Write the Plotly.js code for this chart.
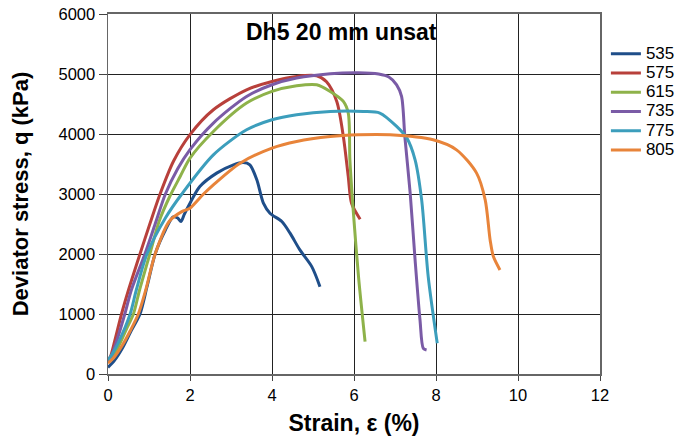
<!DOCTYPE html>
<html>
<head>
<meta charset="utf-8">
<script src="https://cdn.plot.ly/plotly-3.0.1.min.js"></script>
<style>html,body{margin:0;padding:0;background:#fff;}#chart{width:683px;height:441px;}</style>
</head>
<body>
<div id="chart"></div>
<script>
// Series names
const seriesNames = ["535", "575", "615", "735", "775", "805"];

// Strain (%) and deviator stress (kPa) per series
const strain535 = [0, 0.15, 0.35, 0.55, 0.78, 0.95, 1.15, 1.40, 1.59, 1.70, 1.78, 1.86, 2.0, 2.24, 2.65, 3.06, 3.30, 3.46, 3.63, 3.79, 3.95, 4.24, 4.44, 4.68, 4.97, 5.17];
const q535      = [110, 220, 430, 700, 1000, 1450, 2000, 2400, 2620, 2600, 2541, 2660, 2847, 3124, 3348, 3486, 3525, 3486, 3236, 2847, 2680, 2541, 2347, 2068, 1790, 1456];

const strain575 = [0, 0.08, 0.17, 0.33, 0.50, 0.78, 1.02, 1.27, 1.6, 2.0, 2.57, 3.38, 4.0, 4.6, 5.09, 5.33, 5.58, 5.74, 5.86, 5.94, 6.15];
const q575      = [200, 330, 567, 1000, 1400, 2000, 2500, 3000, 3550, 3990, 4404, 4737, 4876, 4960, 4970, 4870, 4540, 3958, 3291, 2847, 2580];

const strain615 = [0, 0.1, 0.25, 0.45, 0.62, 0.77, 1.02, 1.25, 1.5, 1.76, 2.0, 2.57, 3.38, 4.0, 4.6, 5.09, 5.42, 5.74, 5.86, 5.90, 5.98, 6.11, 6.27];
const q615      = [200, 280, 450, 750, 1000, 1400, 2000, 2550, 2950, 3291, 3598, 4042, 4515, 4710, 4804, 4821, 4710, 4543, 4349, 3570, 2736, 1623, 540];

const strain735 = [0, 0.1, 0.22, 0.41, 0.57, 0.90, 1.15, 1.40, 1.70, 2.0, 2.57, 3.38, 4.0, 4.6, 5.42, 6.1, 6.6, 6.85, 7.04, 7.16, 7.24, 7.37, 7.49, 7.61, 7.69, 7.77];
const q735      = [220, 330, 567, 1000, 1400, 2000, 2500, 3000, 3420, 3740, 4182, 4626, 4821, 4932, 5004, 5020, 5000, 4950, 4820, 4626, 3958, 3014, 1902, 900, 428, 400];

const strain775 = [0, 0.1, 0.25, 0.54, 0.69, 0.95, 1.40, 1.80, 2.57, 3.38, 4.0, 4.6, 5.42, 6.23, 6.63, 7.04, 7.29, 7.49, 7.65, 7.81, 8.03];
const q775      = [230, 330, 520, 1000, 1400, 2000, 2600, 3000, 3653, 4070, 4237, 4320, 4375, 4375, 4349, 4126, 3931, 3570, 2902, 1623, 512];

const strain805 = [0, 0.15, 0.35, 0.55, 0.74, 0.92, 1.15, 1.5, 1.8, 2.0, 2.33, 2.57, 3.22, 4.0, 4.6, 5.42, 6.1, 6.88, 7.93, 8.50, 8.99, 9.20, 9.32, 9.40, 9.56];
const q805      = [180, 280, 480, 730, 1000, 1400, 2000, 2550, 2707, 2764, 3000, 3153, 3514, 3765, 3876, 3958, 3987, 3987, 3903, 3736, 3348, 2902, 2235, 1957, 1735];

const xTicks = [0, 2, 4, 6, 8, 10, 12];
const yTicks = [0, 1000, 2000, 3000, 4000, 5000, 6000];

const colors = ["#1F4E89", "#B8403B", "#8EB24A", "#7A5BA6", "#3C9EBC", "#E8843A"];
const xs = [strain535, strain575, strain615, strain735, strain775, strain805];
const ys = [q535, q575, q615, q735, q775, q805];

const traces = seriesNames.map((n, i) => ({
  x: xs[i], y: ys[i], name: '<span style="font-size:17px">' + n + '</span>', type: "scatter", mode: "lines",
  line: {color: colors[i], width: 3, shape: "spline", smoothing: 0.8}
}));

const font = "Liberation Sans, Arial, sans-serif";
const layout = {
  width: 683, height: 441,
  margin: {l: 108, r: 83, t: 14, b: 67, autoexpand: false},
  paper_bgcolor: "#fff", plot_bgcolor: "#fff",
  showlegend: true,
  legend: {x: 1.012, xanchor: "left", y: 0.93, yanchor: "top", font: {family: font, size: 12.5, color: "#000"}, tracegroupgap: 0, itemwidth: 30, bgcolor: "rgba(0,0,0,0)"},
  xaxis: {
    range: [0, 12], tickvals: xTicks, ticktext: xTicks.map(String),
    showgrid: true, gridcolor: "#222", gridwidth: 1,
    showline: true, linecolor: "#666", linewidth: 2, mirror: true,
    ticks: "outside", ticklen: 5, tickcolor: "#444",
    zeroline: false,
    tickfont: {family: font, size: 16.5, color: "#000"},
    title: {text: "<b>Strain, ε (%)</b>", font: {family: font, size: 23, color: "#000"}, standoff: 12}
  },
  yaxis: {
    range: [0, 6000], tickvals: yTicks, ticktext: yTicks.map(String),
    showgrid: true, gridcolor: "#222", gridwidth: 1,
    showline: true, linecolor: "#666", linewidth: 1.5, mirror: true,
    ticks: "outside", ticklen: 8, tickcolor: "#444",
    zeroline: false,
    tickfont: {family: font, size: 16.5, color: "#000"},
    title: {text: "<b>Deviator stress, q (kPa)</b>", font: {family: font, size: 22, color: "#000"}, standoff: 24}
  },
  annotations: [{
    text: "<b>Dh5 20 mm unsat</b>", xref: "paper", yref: "paper",
    x: 0.474, y: 0.95, xanchor: "center", yanchor: "middle", showarrow: false,
    font: {family: font, size: 23, color: "#000"}
  }]
};

Plotly.newPlot("chart", traces, layout, {displayModeBar: false, staticPlot: true});
</script>
</body>
</html>
